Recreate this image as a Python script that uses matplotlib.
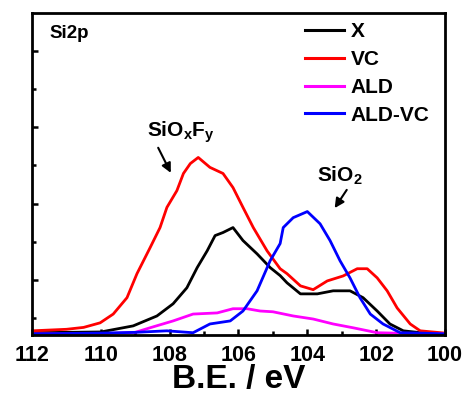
import matplotlib
matplotlib.use('Agg')
import matplotlib.pyplot as plt
from matplotlib.ticker import MultipleLocator, FixedLocator

plt.rcParams['font.family'] = ['Liberation Sans', 'DejaVu Sans']
plt.rcParams['font.weight'] = 'bold'
plt.rcParams['mathtext.fontset'] = 'custom'
plt.rcParams['mathtext.rm'] = 'Liberation Sans:bold'
plt.rcParams['mathtext.bf'] = 'Liberation Sans:bold'

# データ
be_x = [112, 111, 110, 109.06, 108.37, 107.9, 107.5, 107.2, 106.91, 106.68, 106.45,
        106.16, 105.87, 105.46, 105.08, 104.79, 104.59, 104.2, 103.71, 103.25, 102.76,
        102.38, 101.97, 101.6, 101.21, 100.6, 100]
int_x = [-0.39, -0.38, -0.37, -0.21, 0.05, 0.37, 0.79, 1.32, 1.76, 2.16, 2.24,
         2.37, 2.03, 1.68, 1.32, 1.11, 0.92, 0.63, 0.63, 0.71, 0.71,
         0.53, 0.18, -0.16, -0.34, -0.40, -0.42]

be_vc = [112, 111, 110.5, 110.02, 109.64, 109.24, 108.95, 108.57, 108.28, 108.08, 107.79,
         107.6, 107.4, 107.17, 106.83, 106.45, 106.16, 105.87, 105.57, 105.17, 104.79,
         104.59, 104.2, 103.83, 103.42, 102.96, 102.55, 102.26, 101.97, 101.68, 101.39,
         101.01, 100.72, 100]
int_vc = [-0.34, -0.30, -0.25, -0.13, 0.10, 0.53, 1.16, 1.84, 2.37, 2.9, 3.34,
          3.79, 4.05, 4.21, 3.95, 3.79, 3.42, 2.9, 2.37, 1.76, 1.29,
          1.16, 0.84, 0.74, 0.97, 1.10, 1.29, 1.29, 1.05, 0.71, 0.26,
          -0.16, -0.34, -0.40]

be_ald = [112, 111, 110, 109, 108.57, 107.9, 107.32, 106.62, 106.16, 105.75, 105.37,
          105, 104.41, 103.83, 103.25, 102.67, 101.97, 101, 100]
int_ald = [-0.42, -0.42, -0.42, -0.38, -0.26, -0.08, 0.10, 0.13, 0.24, 0.24, 0.18,
           0.16, 0.05, -0.03, -0.16, -0.26, -0.39, -0.41, -0.42]

be_aldvc = [112, 111, 110, 109, 108.08, 107.32, 106.83, 106.24, 105.87, 105.46, 105.08,
            104.79, 104.7, 104.41, 104.0, 103.63, 103.34, 103.05, 102.76, 102.47, 102.17,
            101.8, 101.3, 100.7, 100]
int_aldvc = [-0.42, -0.41, -0.40, -0.38, -0.34, -0.39, -0.16, -0.08, 0.18, 0.71, 1.5,
             1.95, 2.37, 2.63, 2.79, 2.47, 2.03, 1.50, 1.05, 0.53, 0.10,
             -0.16, -0.39, -0.40, -0.42]

series = [
    (be_x, int_x, 'black', 'X'),
    (be_vc, int_vc, 'red', 'VC'),
    (be_ald, int_ald, 'magenta', 'ALD'),
    (be_aldvc, int_aldvc, 'blue', 'ALD-VC'),
]


def plot_si2p():
    fig = plt.figure(figsize=(4.64, 3.96), dpi=100)
    ax = fig.add_axes([0.069, 0.154, 0.890, 0.813])

    for bx, iy, col, lab in series:
        ax.plot(bx, iy, color=col, linewidth=2.0, label=lab)

    ax.set_xlim(112, 100)
    ax.set_ylim(-0.45, 8.0)

    ax.xaxis.set_major_locator(MultipleLocator(2))
    ax.xaxis.set_minor_locator(MultipleLocator(1))
    ax.yaxis.set_major_locator(FixedLocator([1, 3, 5, 7]))
    ax.yaxis.set_minor_locator(FixedLocator([0, 2, 4, 6]))
    ax.tick_params(which='both', direction='in', width=1.8, top=False, right=False)
    ax.tick_params(which='major', length=4.5)
    ax.tick_params(which='minor', length=3)
    ax.tick_params(axis='x', labelsize=15.5, pad=7)
    ax.tick_params(axis='y', labelleft=False)
    for lbl in ax.get_xticklabels():
        lbl.set_fontweight('bold')
    for sp in ax.spines.values():
        sp.set_linewidth(2)

    ax.set_xlabel('B.E. / eV', fontsize=24, fontweight='bold', labelpad=-1)

    ax.text(111.48, 7.47, 'Si2p', fontsize=13.5, fontweight='bold', va='center', ha='left')

    ax.annotate('', xy=(107.93, 3.74), xytext=(108.37, 4.53),
                arrowprops=dict(arrowstyle='-|>', color='black', lw=1.5, mutation_scale=14))
    ax.text(107.67, 4.87, r'$\mathbf{SiO_xF_y}$', fontsize=15, ha='center', va='center')

    ax.annotate('', xy=(103.25, 2.82), xytext=(102.81, 3.42),
                arrowprops=dict(arrowstyle='-|>', color='black', lw=1.5, mutation_scale=14))
    ax.text(103.05, 3.74, r'$\mathbf{SiO_2}$', fontsize=15, ha='center', va='center')

    leg = ax.legend(loc='upper right', bbox_to_anchor=(0.985, 1.0), frameon=False,
                    fontsize=15, handlelength=1.9, handletextpad=0.3, labelspacing=0.42,
                    borderaxespad=0.05)
    for t in leg.get_texts():
        t.set_fontweight('bold')
    for h in leg.get_lines():
        h.set_linewidth(2.2)

    fig.savefig('out.png', dpi=100)
    plt.close(fig)


if __name__ == "__main__":
    plot_si2p()
